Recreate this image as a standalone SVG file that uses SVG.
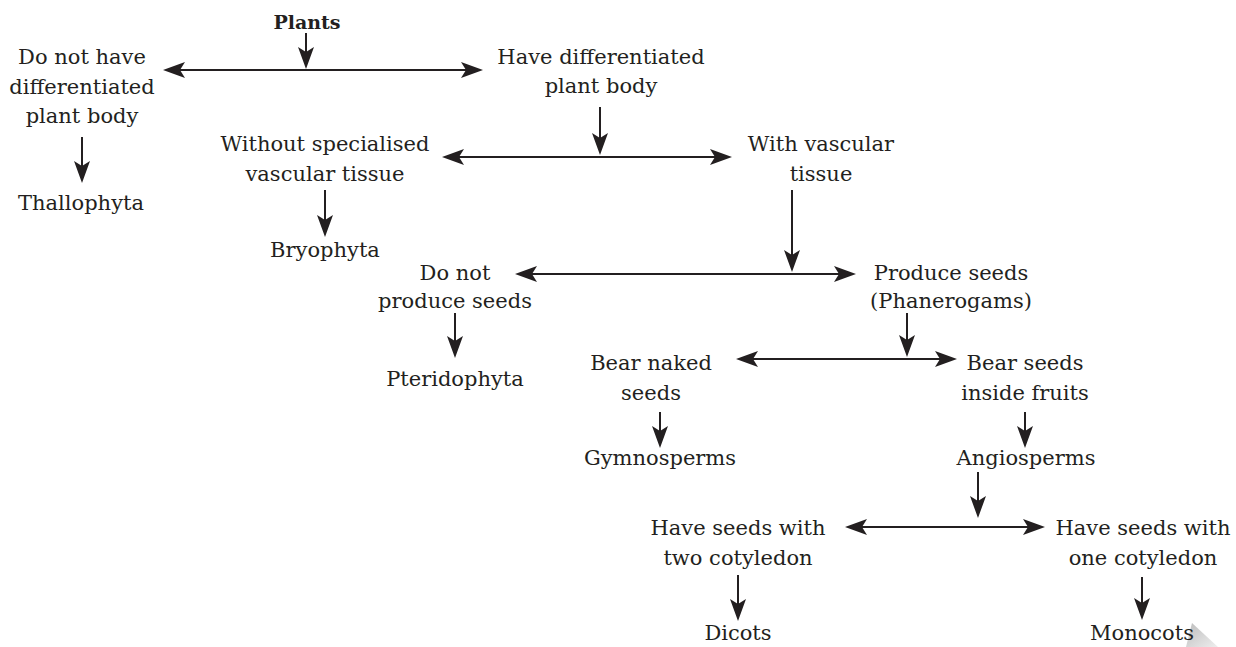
<svg xmlns="http://www.w3.org/2000/svg" width="1236" height="647" viewBox="0 0 1236 647">
<style>
text{font-family:"DejaVu Serif","Liberation Serif",serif;font-size:21px;fill:#231f20;text-anchor:middle}
.b{font-weight:bold;font-size:19px}
.c line{stroke:#231f20;stroke-width:2;fill:none}
.d{marker-end:url(#ah)}
.h{marker-start:url(#ah);marker-end:url(#ah)}
</style>
<defs>
<marker id="ah" markerUnits="userSpaceOnUse" viewBox="0 0 22 16" refX="16" refY="8" markerWidth="22" markerHeight="16" orient="auto-start-reverse">
<path d="M0,0 L22,8 L0,16 L5,8 Z" fill="#231f20"/>
</marker>
<linearGradient id="sh" x1="0" y1="0" x2="1" y2="1">
<stop offset="0" stop-color="#bdbdbd"/>
<stop offset="1" stop-color="#eeeeee"/>
</linearGradient>
</defs>
<rect width="1236" height="647" fill="#fff"/>
<polygon points="1192,623 1218,647 1186,647" fill="url(#sh)"/>
<g class="c" id="connectors">
<line class="d" x1="306" y1="33" x2="306" y2="63"/>
<line class="h" x1="169" y1="70" x2="477" y2="70"/>
<line class="d" x1="82" y1="137" x2="82" y2="177"/>
<line class="d" x1="600" y1="107" x2="600" y2="149"/>
<line class="h" x1="448" y1="157" x2="726" y2="157"/>
<line class="d" x1="325" y1="190" x2="325" y2="231"/>
<line class="d" x1="792" y1="190" x2="792" y2="266"/>
<line class="h" x1="521" y1="274" x2="850" y2="274"/>
<line class="d" x1="455" y1="313" x2="455" y2="352"/>
<line class="d" x1="907" y1="313" x2="907" y2="351"/>
<line class="h" x1="742" y1="359" x2="951" y2="359"/>
<line class="d" x1="660" y1="412" x2="660" y2="442"/>
<line class="d" x1="1025" y1="412" x2="1025" y2="442"/>
<line class="d" x1="978" y1="472" x2="978" y2="512"/>
<line class="h" x1="851" y1="527" x2="1039" y2="527"/>
<line class="d" x1="738" y1="575" x2="738" y2="615"/>
<line class="d" x1="1142" y1="577" x2="1142" y2="614"/>
</g>
<g id="plants"><text class="b" x="307" y="29">Plants</text></g>
<g id="no-diff"><text x="82" y="64">Do not have</text><text x="82" y="94">differentiated</text><text x="82" y="123">plant body</text></g>
<g id="thallophyta"><text x="81" y="210">Thallophyta</text></g>
<g id="have-diff"><text x="601" y="64">Have differentiated</text><text x="601" y="93">plant body</text></g>
<g id="without-vascular"><text x="325" y="151">Without specialised</text><text x="325" y="181">vascular tissue</text></g>
<g id="with-vascular"><text x="821" y="151">With vascular</text><text x="821" y="181">tissue</text></g>
<g id="bryophyta"><text x="325" y="257">Bryophyta</text></g>
<g id="no-seeds"><text x="455" y="280">Do not</text><text x="455" y="308">produce seeds</text></g>
<g id="seeds"><text x="951" y="280">Produce seeds</text><text x="951" y="308">(Phanerogams)</text></g>
<g id="pteridophyta"><text x="455" y="386">Pteridophyta</text></g>
<g id="naked"><text x="651" y="370">Bear naked</text><text x="651" y="400">seeds</text></g>
<g id="fruits"><text x="1025" y="370">Bear seeds</text><text x="1025" y="400">inside fruits</text></g>
<g id="gymnosperms"><text x="660" y="465">Gymnosperms</text></g>
<g id="angiosperms"><text x="1026" y="465">Angiosperms</text></g>
<g id="two-cot"><text x="738" y="535">Have seeds with</text><text x="738" y="565">two cotyledon</text></g>
<g id="one-cot"><text x="1143" y="535">Have seeds with</text><text x="1143" y="565">one cotyledon</text></g>
<g id="dicots"><text x="738" y="640">Dicots</text></g>
<g id="monocots"><text x="1142" y="640">Monocots</text></g>
</svg>
